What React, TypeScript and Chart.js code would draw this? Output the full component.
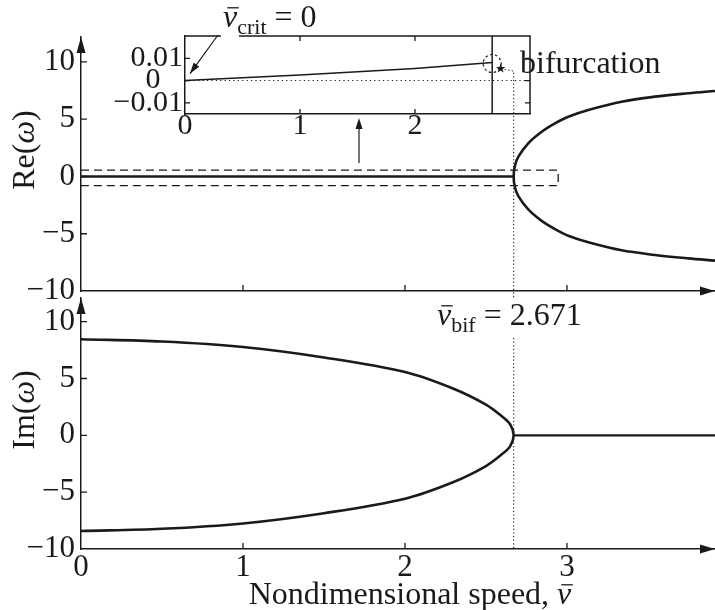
import React, { useEffect, useRef } from 'react';
import { Chart, registerables } from 'chart.js';
Chart.register(...registerables);

const W = 715;
const H = 610;
const FONT = '"Liberation Serif", "Times New Roman", serif';
const INK = '#1a1a1a';

// ---------- data ----------
const V_BIF = 2.671;
const X_MAX = 3.914;

// top panel: Re(omega)
const reStableSpeed = [0, 2.671];
const reStableValue = [0, 0];
const reBranchSpeed = [3.914, 3.749, 3.543, 3.337, 3.132, 3.008, 2.926, 2.844, 2.761, 2.7, 2.678, 2.671, 2.678, 2.7, 2.761, 2.844, 2.926, 3.008, 3.132, 3.337, 3.543, 3.749, 3.914];
const reBranchValue = [-7.35, -7.15, -6.85, -6.45, -5.75, -5.18, -4.6, -3.88, -2.88, -1.72, -0.9, 0, 0.9, 1.73, 2.9, 3.91, 4.64, 5.22, 5.81, 6.53, 6.97, 7.27, 7.47];
const zoomBoxSpeed = [0, 2.946, 2.946, 0];
const zoomBoxValue = [0.55, 0.55, -0.8, -0.8];

// bottom panel: Im(omega)
const imPairSpeed = [0, 0.5, 1.0, 1.5, 2.0, 2.3, 2.5, 2.6, 2.65, 2.671, 2.65, 2.6, 2.5, 2.3, 2.0, 1.5, 1.0, 0.5, 0];
const imPairValue = [8.45, 8.25, 7.77, 6.85, 5.57, 4.1, 2.7, 1.65, 0.95, 0, -0.95, -1.65, -2.7, -4.1, -5.57, -6.85, -7.75, -8.22, -8.42];
const imRealSpeed = [2.671, 3.914];
const imRealValue = [0, 0];

// inset
const insetSpeed = [0, 1, 2, 2.671];
const insetValue = [0, 0.0025, 0.0054, 0.0081];
const insetZeroSpeed = [0, 3];
const insetZeroValue = [0, 0];
const insetBifSpeed = [2.671, 2.671];
const insetBifValue = [-0.015, 0.02];
const starSpeed = 2.745;
const starValue = 0.0054;

// ticks
const mainXTicks = [0, 1, 2, 3];
const mainXLabels = ['0', '1', '2', '3'];
const mainYTicks = [-10, -5, 0, 5, 10];
const mainYLabels = ['\u221210', '\u22125', '0', '5', '10'];
const insetXTicks = [0, 1, 2];
const insetXLabels = ['0', '1', '2'];
const insetYTicks = [-0.01, 0, 0.01];
const insetYLabels = ['\u22120.01', '0   ', '0.01'];

const pts = (xs: number[], ys: number[]) => xs.map((x, i) => ({ x, y: ys[i] }));

function lineDs(data: any[], width: number, dash: number[] = [], tension = 0) {
  return {
    data,
    borderColor: INK,
    borderWidth: width,
    borderDash: dash,
    pointRadius: 0,
    tension,
    fill: false,
  };
}

type Seg = { t: string; it?: boolean; sub?: boolean; bar?: boolean };
function rich(ctx: CanvasRenderingContext2D, segs: Seg[], x: number, y: number, size: number, align: 'left' | 'center' = 'left') {
  const f = (s: Seg) => `${s.it ? 'italic ' : ''}${s.sub ? Math.round(size * 0.7) : size}px ${FONT}`;
  let w = 0;
  for (const s of segs) {
    ctx.font = f(s);
    w += ctx.measureText(s.t).width;
  }
  let cx = align === 'center' ? x - w / 2 : x;
  ctx.textAlign = 'left';
  for (const s of segs) {
    ctx.font = f(s);
    const sw = ctx.measureText(s.t).width;
    ctx.fillText(s.t, cx, y + (s.sub ? size * 0.22 : 0));
    if (s.bar) {
      ctx.beginPath();
      ctx.lineWidth = 1.3;
      ctx.moveTo(cx + sw * 0.3, y - size * 0.6);
      ctx.lineTo(cx + sw + 1.5, y - size * 0.6);
      ctx.stroke();
    }
    cx += sw;
  }
}

function arrowHead(ctx: CanvasRenderingContext2D, x1: number, y1: number, x2: number, y2: number, len: number, half: number) {
  const a = Math.atan2(y2 - y1, x2 - x1);
  ctx.beginPath();
  ctx.moveTo(x2, y2);
  ctx.lineTo(x2 - len * Math.cos(a) + half * Math.sin(a), y2 - len * Math.sin(a) - half * Math.cos(a));
  ctx.lineTo(x2 - len * Math.cos(a) - half * Math.sin(a), y2 - len * Math.sin(a) + half * Math.cos(a));
  ctx.closePath();
  ctx.fill();
}

const axisDecor = (box: boolean) => ({
  id: 'axisDecor',
  afterDraw(chart: any) {
    const { ctx, chartArea: a, scales } = chart;
    const xs = scales.x;
    const ys = scales.y;
    ctx.save();
    ctx.strokeStyle = INK;
    ctx.fillStyle = INK;
    ctx.lineWidth = 1.3;
    const L = box ? 5 : 6;
    ctx.beginPath();
    xs.ticks.forEach((t: any) => {
      const px = xs.getPixelForValue(t.value);
      if (px <= a.left + 1 || px >= a.right - 1) return;
      ctx.moveTo(px, a.bottom);
      ctx.lineTo(px, a.bottom - L);
      if (box) {
        ctx.moveTo(px, a.top);
        ctx.lineTo(px, a.top + L);
      }
    });
    ys.ticks.forEach((t: any) => {
      const py = ys.getPixelForValue(t.value);
      if (py >= a.bottom - 1 || py <= a.top + 1) return;
      ctx.moveTo(a.left, py);
      ctx.lineTo(a.left + L, py);
      if (box) {
        ctx.moveTo(a.right, py);
        ctx.lineTo(a.right - L, py);
      }
    });
    ctx.stroke();
    if (box) {
      ctx.lineWidth = 1.5;
      ctx.beginPath();
      ctx.moveTo(a.left, a.top);
      ctx.lineTo(a.right, a.top);
      ctx.lineTo(a.right, a.bottom);
      ctx.stroke();
    } else {
      arrowHead(ctx, a.right - 20, a.bottom, a.right, a.bottom, 15, 4.5);
      arrowHead(ctx, a.left, a.top + 20, a.left, a.top, 16, 4.5);
    }
    ctx.restore();
  },
});

function xScale(min: number, max: number, ticks: number[], labels: string[] | null, pad: number, size: number, height: number) {
  return {
    type: 'linear',
    min,
    max,
    afterBuildTicks: (s: any) => {
      s.ticks = ticks.map((v) => ({ value: v }));
    },
    afterFit: (s: any) => {
      s.height = height;
    },
    ticks: labels
      ? {
          display: true,
          padding: pad,
          maxRotation: 0,
          autoSkip: false,
          color: INK,
          font: { family: FONT, size, lineHeight: 1 },
          callback: (v: number) => labels[ticks.indexOf(v)] ?? '',
        }
      : { display: false },
    grid: { drawOnChartArea: false, drawTicks: false },
    border: { color: INK, width: 1.5 },
  };
}

function yScale(min: number, max: number, ticks: number[], labels: string[], width: number, pad: number, size: number) {
  return {
    type: 'linear',
    min,
    max,
    afterBuildTicks: (s: any) => {
      s.ticks = ticks.map((v) => ({ value: v }));
    },
    afterFit: (s: any) => {
      s.width = width;
    },
    ticks: {
      display: true,
      padding: pad,
      autoSkip: false,
      color: INK,
      font: { family: FONT, size, lineHeight: 1 },
      callback: (v: number) => labels[ticks.indexOf(v)] ?? '',
    },
    grid: { drawOnChartArea: false, drawTicks: false },
    border: { color: INK, width: 1.5 },
  };
}

const baseOpts = (padding: any) => ({
  responsive: false,
  animation: false,
  events: [],
  layout: { padding, autoPadding: false },
  plugins: { legend: { display: false }, tooltip: { enabled: false } },
});

export default function App() {
  const topRef = useRef<HTMLCanvasElement>(null);
  const botRef = useRef<HTMLCanvasElement>(null);
  const insRef = useRef<HTMLCanvasElement>(null);

  useEffect(() => {
    const top = new Chart(topRef.current as HTMLCanvasElement, {
      type: 'line',
      data: {
        datasets: [
          lineDs(pts(reStableSpeed, reStableValue), 2.6),
          lineDs(pts(reBranchSpeed, reBranchValue), 2.6, [], 0.35),
          lineDs(pts(zoomBoxSpeed, zoomBoxValue), 1.3, [8, 5]),
        ] as any,
      },
      options: {
        ...baseOpts({ left: 0, right: 0, top: 37, bottom: H - 291 }),
        scales: {
          x: xScale(0, X_MAX, mainXTicks, null, 0, 31, 0),
          y: yScale(-10, 12.18, mainYTicks, mainYLabels, 81, 6, 31),
        },
      } as any,
      plugins: [axisDecor(false)],
    });

    const bottom = new Chart(botRef.current as HTMLCanvasElement, {
      type: 'line',
      data: {
        datasets: [
          lineDs(pts(imPairSpeed, imPairValue), 2.6, [], 0.35),
          lineDs(pts(imRealSpeed, imRealValue), 2.2),
        ] as any,
      },
      options: {
        ...baseOpts({ left: 0, right: 0, top: 298, bottom: H - 549 - 50 }),
        scales: {
          x: xScale(0, X_MAX, mainXTicks, mainXLabels, 3, 31, 50),
          y: yScale(-10, 12.08, mainYTicks, mainYLabels, 81, 6, 31),
        },
      } as any,
      plugins: [axisDecor(false)],
    });

    const annot = {
      id: 'annot',
      afterDraw(chart: any) {
        const ctx: CanvasRenderingContext2D = chart.ctx;
        const ix = chart.scales.x;
        const iy = chart.scales.y;
        const tx = top.scales.x;
        const by = bottom.scales.y;
        ctx.save();
        ctx.fillStyle = INK;
        ctx.strokeStyle = INK;
        ctx.textBaseline = 'alphabetic';

        // gap in inset border under label
        ctx.fillStyle = '#fff';
        ctx.fillRect(221, 32, 18, 7);
        ctx.fillStyle = INK;

        // axis titles
        const titles: [Seg[], number][] = [
          [[{ t: 'Re(' }, { t: '\u03c9', it: true }, { t: ')' }], 150],
          [[{ t: 'Im(' }, { t: '\u03c9', it: true }, { t: ')' }], 410],
        ];
        titles.forEach(([segs, cy]) => {
          ctx.save();
          ctx.translate(26, cy);
          ctx.rotate(-Math.PI / 2);
          rich(ctx, segs, 0, 8, 32, 'center');
          ctx.restore();
        });
        rich(ctx, [{ t: 'Nondimensional speed, ' }, { t: 'v', it: true, bar: true }], 410, 604, 32, 'center');

        // labels
        rich(ctx, [{ t: 'v', it: true, bar: true }, { t: 'crit', sub: true }, { t: ' = 0' }], 223, 27, 32);
        rich(ctx, [{ t: 'bifurcation' }], 520, 73, 32);
        rich(ctx, [{ t: 'v', it: true, bar: true }, { t: 'bif', sub: true }, { t: ' = 2.671' }], 437, 325, 32);

        // crit arrow
        ctx.lineWidth = 1.2;
        const cx1 = 218, cy1 = 35;
        const cx2 = ix.getPixelForValue(0) + 5, cy2 = iy.getPixelForValue(0) - 7;
        ctx.beginPath();
        ctx.moveTo(cx1, cy1);
        ctx.lineTo(cx2, cy2);
        ctx.stroke();
        arrowHead(ctx, cx1, cy1, cx2, cy2, 11, 3.5);

        // up arrow from zoom box to inset
        ctx.beginPath();
        ctx.moveTo(359, 163);
        ctx.lineTo(359, 122);
        ctx.stroke();
        arrowHead(ctx, 359, 163, 359, 118, 11, 3.5);

        // dashed circle at bifurcation in inset
        const bx = ix.getPixelForValue(V_BIF);
        const byy = iy.getPixelForValue(insetValue[insetValue.length - 1]);
        ctx.setLineDash([2.5, 2.5]);
        ctx.lineWidth = 1.2;
        ctx.beginPath();
        ctx.arc(bx, byy + 1, 9, 0, Math.PI * 2);
        ctx.stroke();

        // star
        const sx = ix.getPixelForValue(starSpeed);
        const sy = iy.getPixelForValue(starValue);
        ctx.setLineDash([]);
        ctx.beginPath();
        for (let k = 0; k < 10; k++) {
          const r = k % 2 === 0 ? 5 : 2;
          const ang = -Math.PI / 2 + (k * Math.PI) / 5;
          const px = sx + r * Math.cos(ang);
          const py = sy + r * Math.sin(ang);
          if (k === 0) ctx.moveTo(px, py);
          else ctx.lineTo(px, py);
        }
        ctx.closePath();
        ctx.fill();

        // dotted connector down to the axes
        const vx = tx.getPixelForValue(V_BIF);
        ctx.setLineDash([1.2, 2.4]);
        ctx.lineWidth = 1.1;
        ctx.beginPath();
        ctx.moveTo(sx + 4, sy + 1);
        ctx.lineTo(vx, sy + 2.5);
        ctx.lineTo(vx, 298);
        ctx.moveTo(vx, 338);
        ctx.lineTo(vx, by.getPixelForValue(-10));
        ctx.stroke();
        ctx.restore();
      },
    };

    const inset = new Chart(insRef.current as HTMLCanvasElement, {
      type: 'line',
      data: {
        datasets: [
          lineDs(pts(insetSpeed, insetValue), 1.4),
          lineDs(pts(insetZeroSpeed, insetZeroValue), 1.1, [1.2, 3.2]),
          lineDs(pts(insetBifSpeed, insetBifValue), 1.5),
        ] as any,
      },
      options: {
        ...baseOpts({ left: 0, right: W - 530, top: 36, bottom: H - 114 - 32 }),
        scales: {
          x: xScale(0, 3, insetXTicks, insetXLabels, -3, 30, 32),
          y: yScale(-0.015, 0.02, insetYTicks, insetYLabels, 185, 2, 30),
        },
      } as any,
      plugins: [axisDecor(true), annot],
    });

    return () => {
      inset.destroy();
      bottom.destroy();
      top.destroy();
    };
  }, []);

  const cs: React.CSSProperties = { position: 'absolute', left: 0, top: 0, width: W, height: H };
  return (
    <div style={{ position: 'absolute', left: 0, top: 0, width: W, height: H, background: '#fff' }}>
      <canvas ref={topRef} width={W} height={H} style={cs} />
      <canvas ref={botRef} width={W} height={H} style={cs} />
      <canvas ref={insRef} width={W} height={H} style={cs} />
    </div>
  );
}
